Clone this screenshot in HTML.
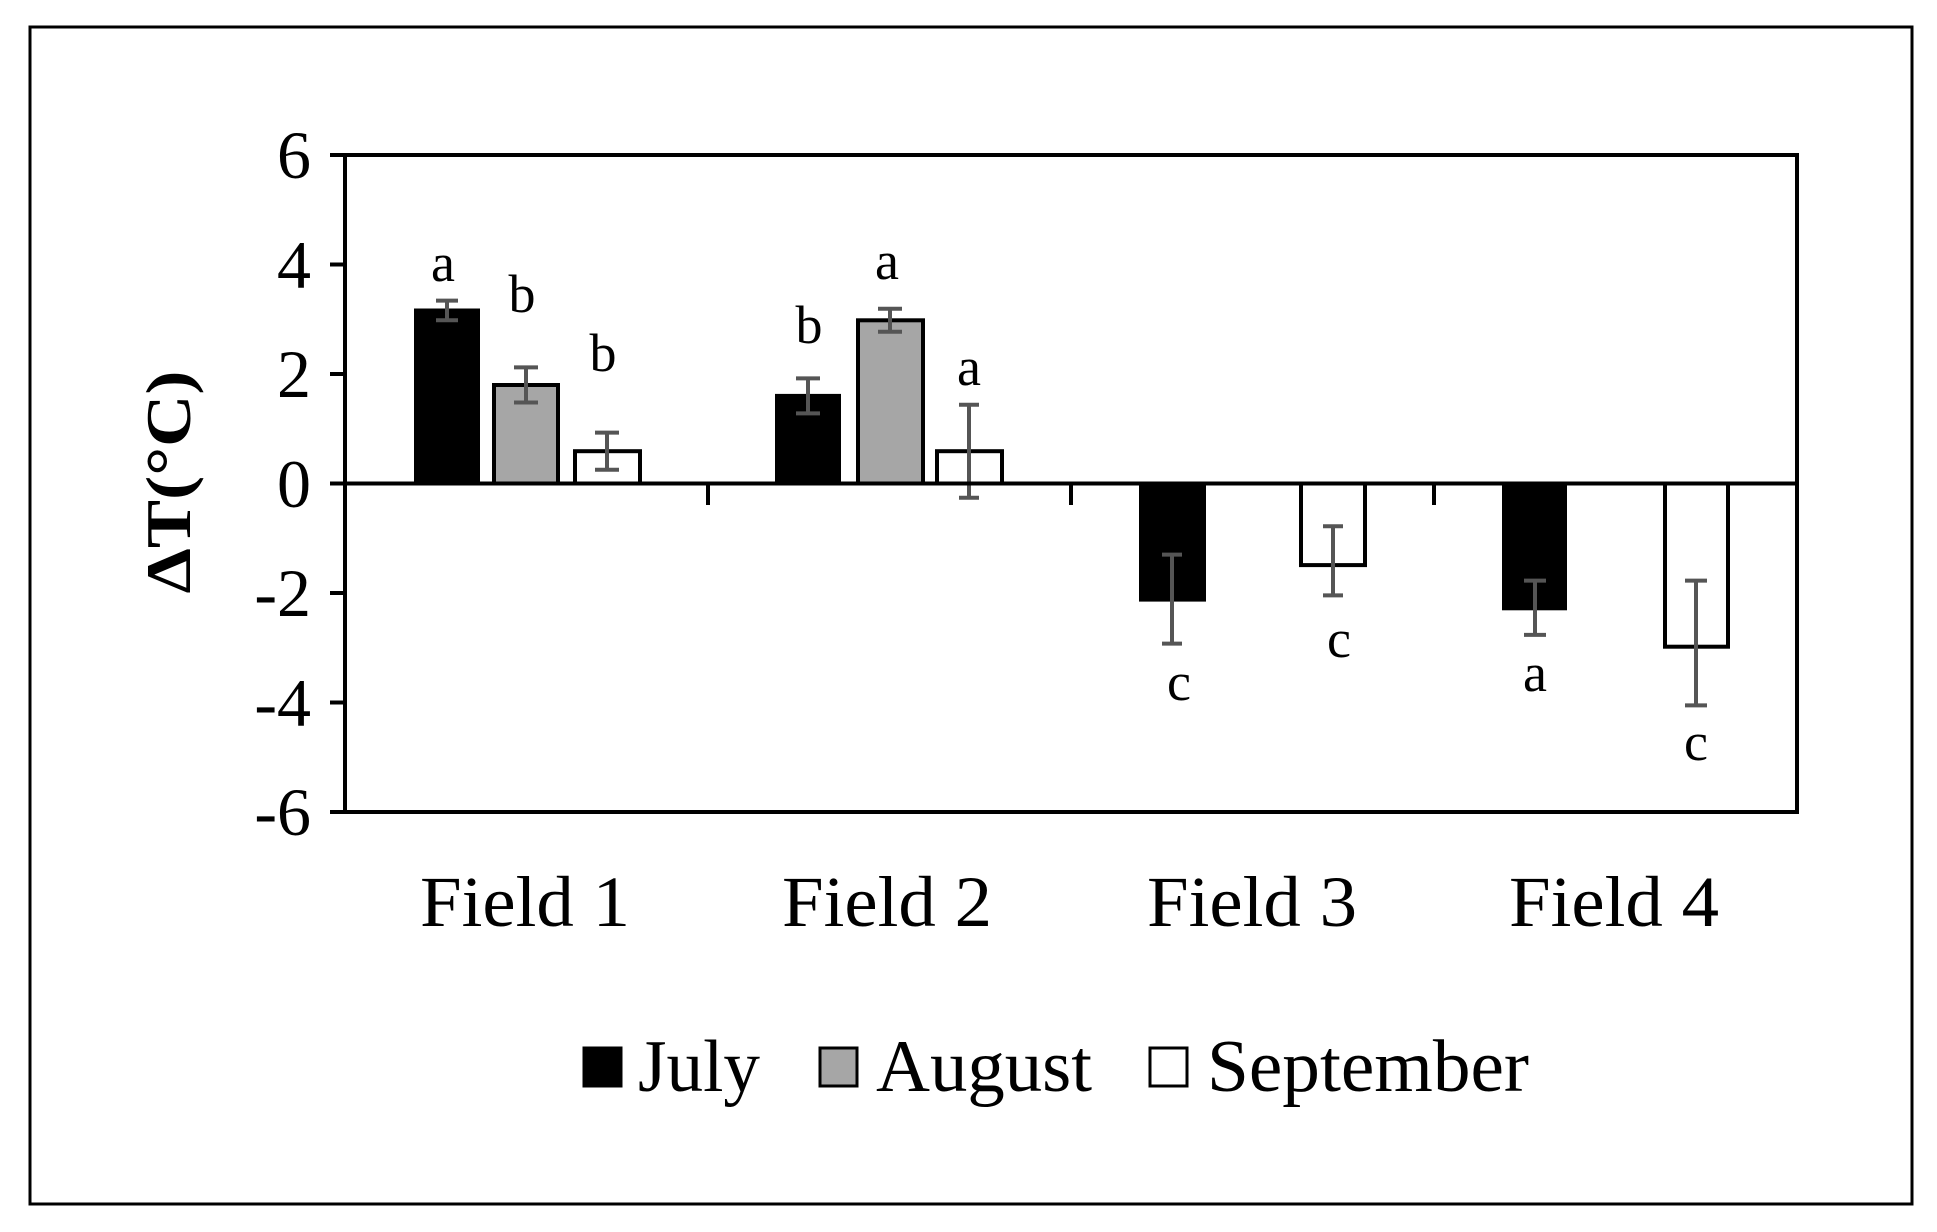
<!DOCTYPE html>
<html><head><meta charset="utf-8"><style>html,body{margin:0;padding:0;background:#fff}svg{display:block}text{font-family:"Liberation Serif","Times New Roman",serif}</style></head>
<body>
<svg width="1937" height="1232" viewBox="0 0 1937 1232" xmlns="http://www.w3.org/2000/svg" style="font-family:'Liberation Serif',serif">
<rect x="0" y="0" width="1937" height="1232" fill="#fff"/>
<rect x="30" y="27" width="1882" height="1177" fill="none" stroke="#000" stroke-width="3"/>
<g stroke="#000" stroke-width="4">
<rect x="416" y="310.5" width="62" height="173" fill="#000"/>
<rect x="494" y="385" width="64" height="98.5" fill="#a6a6a6"/>
<rect x="575" y="451.2" width="65" height="32.3" fill="#fff"/>
<rect x="777" y="395.9" width="62" height="87.6" fill="#000"/>
<rect x="858" y="320.3" width="65" height="163.2" fill="#a6a6a6"/>
<rect x="937" y="451.2" width="65" height="32.3" fill="#fff"/>
<rect x="1141" y="483.5" width="63" height="116.1" fill="#000"/>
<rect x="1301" y="483.5" width="64" height="81.6" fill="#fff"/>
<rect x="1504" y="483.5" width="61" height="124.8" fill="#000"/>
<rect x="1665" y="483.5" width="63" height="163.2" fill="#fff"/>
</g>
<g stroke="#555" stroke-width="4" fill="none">
<path d="M447 300.6V320.3M436 300.6H458M436 320.3H458"/>
<path d="M526 367.4V402.5M514 367.4H538M514 402.5H538"/>
<path d="M607 432.6V469.8M595 432.6H619M595 469.8H619"/>
<path d="M808 378.4V413.4M796 378.4H820M796 413.4H820"/>
<path d="M890 308.8V331.8M878 308.8H902M878 331.8H902"/>
<path d="M969 404.7V497.7M959 404.7H979M959 497.7H979"/>
<path d="M1172 554.6V643.6M1162 554.6H1182M1162 643.6H1182"/>
<path d="M1333 526.2V595.4M1323 526.2H1343M1323 595.4H1343"/>
<path d="M1535 580.6V634.9M1524 580.6H1546M1524 634.9H1546"/>
<path d="M1696 580.6V705.4M1685 580.6H1707M1685 705.4H1707"/>
</g>
<g stroke="#000" stroke-width="4" fill="none">
<rect x="345" y="155" width="1452" height="657"/>
<path d="M345 483.5H1797"/>
<path d="M330 155H345M330 264.5H345M330 374H345M330 483.5H345M330 593H345M330 702.5H345M330 812H345"/>
<path d="M708 483.5V505M1071 483.5V505M1434 483.5V505"/>
</g>
<g font-size="68" text-anchor="end" fill="#000">
<text x="311" y="178">6</text>
<text x="311" y="288">4</text>
<text x="311" y="397">2</text>
<text x="311" y="507">0</text>
<text x="311" y="616">-2</text>
<text x="311" y="726">-4</text>
<text x="311" y="835">-6</text>
</g>
<text transform="translate(190,482) rotate(-90)" font-size="64" font-weight="bold" text-anchor="middle" textLength="223" lengthAdjust="spacingAndGlyphs">ΔT(°C)</text>
<g font-size="54" text-anchor="middle">
<text x="443" y="281">a</text>
<text x="522" y="312">b</text>
<text x="603" y="371">b</text>
<text x="809" y="343">b</text>
<text x="887" y="279">a</text>
<text x="969" y="385">a</text>
<text x="1179" y="700">c</text>
<text x="1339" y="657">c</text>
<text x="1535" y="691">a</text>
<text x="1696" y="760">c</text>
</g>
<g font-size="72">
<text x="420" y="926" textLength="210" lengthAdjust="spacingAndGlyphs">Field 1</text>
<text x="782" y="926" textLength="210" lengthAdjust="spacingAndGlyphs">Field 2</text>
<text x="1147" y="926" textLength="210" lengthAdjust="spacingAndGlyphs">Field 3</text>
<text x="1509" y="926" textLength="210" lengthAdjust="spacingAndGlyphs">Field 4</text>
</g>
<g stroke="#000" stroke-width="3">
<rect x="584" y="1048" width="37" height="38" fill="#000"/>
<rect x="820" y="1048" width="37" height="38" fill="#a6a6a6"/>
<rect x="1150" y="1048" width="37" height="38" fill="#fff"/>
</g>
<g font-size="74">
<text x="638" y="1091" textLength="122" lengthAdjust="spacingAndGlyphs">July</text>
<text x="876" y="1091" textLength="216" lengthAdjust="spacingAndGlyphs">August</text>
<text x="1207" y="1091" textLength="322" lengthAdjust="spacingAndGlyphs">September</text>
</g>
</svg>
</body></html>
